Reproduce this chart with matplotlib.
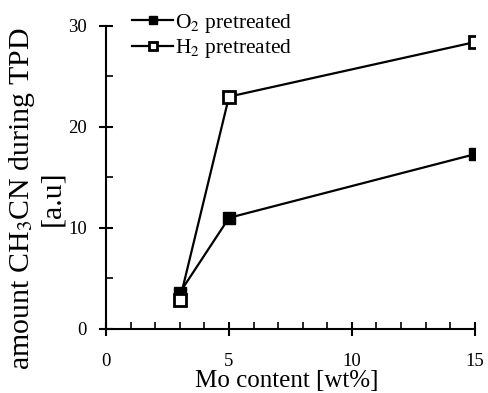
import matplotlib
matplotlib.use("Agg")
import matplotlib.pyplot as plt
from matplotlib.ticker import MultipleLocator

# Mo loading and CH3CN uptake measured by TPD
mo_content = [3, 5, 15]
o2_pretreated = [3.6, 11.0, 17.3]
h2_pretreated = [2.9, 23.0, 28.4]

plt.rcParams["font.family"] = ["Liberation Serif", "DejaVu Serif"]
plt.rcParams["mathtext.fontset"] = "stix"

fig = plt.figure(figsize=(4.89, 3.93), dpi=100)
ax = fig.add_axes([0.217, 0.163, 0.754, 0.771])

ax.plot(mo_content, o2_pretreated, color="k", lw=1.6, marker="s", ms=8,
        mfc="k", mec="k", label=r"O$_2$ pretreated")
ax.plot(mo_content, h2_pretreated, color="k", lw=1.6, marker="s", ms=8,
        mfc="white", mec="k", mew=2, label=r"H$_2$ pretreated")

ax.set_xlim(0, 15)
ax.set_ylim(0, 30)
ax.xaxis.set_major_locator(MultipleLocator(5))
ax.xaxis.set_minor_locator(MultipleLocator(1))
ax.yaxis.set_major_locator(MultipleLocator(10))
ax.yaxis.set_minor_locator(MultipleLocator(5))

for side in ("top", "right"):
    ax.spines[side].set_visible(False)
for side in ("left", "bottom"):
    ax.spines[side].set_linewidth(1.5)

ax.tick_params(which="major", direction="inout", length=10, width=1.5,
               labelsize=13.5)
ax.tick_params(which="minor", direction="in", length=5, width=1.2)
ax.tick_params(axis="x", which="major", pad=12)
ax.tick_params(axis="y", which="major", pad=9)

ax.set_xlabel("Mo content [wt%]", fontsize=18, va="top")
ax.xaxis.set_label_coords(0.49, -0.135)
ax.set_ylabel("amount CH$_3$CN during TPD\n[a.u]", fontsize=21.5,
              linespacing=1.15, va="center")
ax.yaxis.set_label_coords(-0.19, 0.43)

ax.legend(loc="upper left", bbox_to_anchor=(0.048, 1.075), frameon=False,
          fontsize=15.5, handlelength=1.9, handletextpad=0.1,
          labelspacing=0.12, borderaxespad=0, markerscale=0.75)

fig.savefig("out.png", dpi=100)
